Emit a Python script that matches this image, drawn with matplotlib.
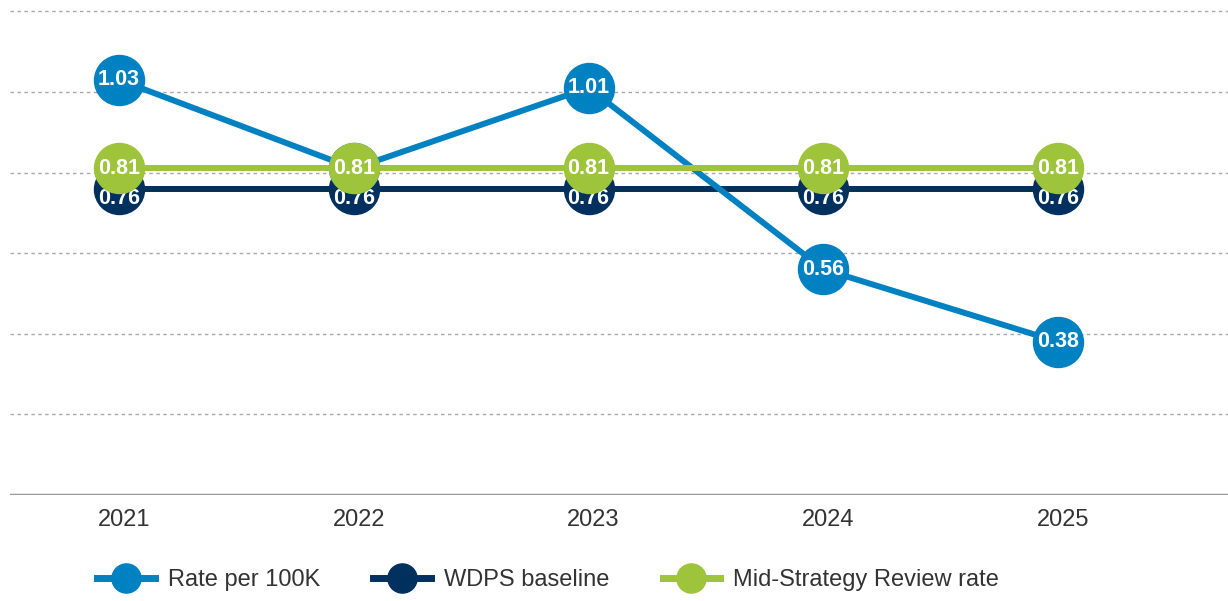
import matplotlib
matplotlib.use("Agg")
import matplotlib.pyplot as plt
import matplotlib.transforms as mtransforms
from matplotlib import font_manager
from matplotlib.lines import Line2D

# data
years = ["2021", "2022", "2023", "2024", "2025"]
rate = [1.03, 0.81, 1.01, 0.56, 0.38]
baseline = [0.76, 0.76, 0.76, 0.76, 0.76]
review = [0.81, 0.81, 0.81, 0.81, 0.81]
grid_vals = [0.2, 0.4, 0.6, 0.8, 1.0, 1.2]

blue = "#0081c1"
navy = "#00305e"
green = "#9dc43b"

# narrow bold font for the labels in the circles if we have it
names = {f.name for f in font_manager.fontManager.ttflist}
if "Liberation Sans Narrow" in names:
    lab_font, lab_size = "Liberation Sans Narrow", 18
else:
    lab_font, lab_size = "Liberation Sans", 15.5

plt.rcParams["font.family"] = ["Liberation Sans", "DejaVu Sans"]

fig = plt.figure(figsize=(12.28, 6.01), dpi=100)
ax = fig.add_axes([10 / 1228, 106 / 601, 1218 / 1228, 495 / 601])

x = list(range(len(years)))
ms = 36
lw = 4.3

ax.plot(x, baseline, color=navy, lw=lw, marker="o", ms=ms, zorder=3)
ax.plot(x, rate, color=blue, lw=lw, marker="o", ms=ms, zorder=4)
ax.plot(x, review, color=green, lw=lw, marker="o", ms=ms, zorder=5)

for i in x:
    ax.annotate(f"{baseline[i]:.2f}", (i, baseline[i]), xytext=(0, -7), textcoords="offset points",
                ha="center", va="center", color="white", fontsize=lab_size, fontweight="bold",
                family=lab_font, zorder=3.5)
    ax.annotate(f"{review[i]:.2f}", (i, review[i]), ha="center", va="center", color="white",
                fontsize=lab_size, fontweight="bold", family=lab_font, zorder=6)
    if abs(rate[i] - review[i]) > 0.05:
        ax.annotate(f"{rate[i]:.2f}", (i, rate[i]), ha="center", va="center", color="white",
                    fontsize=lab_size, fontweight="bold", family=lab_font, zorder=6)

for g in grid_vals:
    ax.axhline(g, color="#a8a8a8", lw=1, ls=(0, (2.5, 2.5)), zorder=1)
ax.axhline(0, color="#9a9a9a", lw=2.5, zorder=2)

ax.set_xlim(-0.464, 4.723)
ax.set_ylim(0, 1.228)
ax.set_yticks([])
ax.set_xticks(x)
ax.set_xticklabels(years, fontsize=17, color="#333333")
ax.tick_params(axis="x", length=0, pad=10)
shift = mtransforms.ScaledTranslation(5 / 100, 0, fig.dpi_scale_trans)
for lab in ax.get_xticklabels():
    lab.set_transform(lab.get_transform() + shift)
for s in ax.spines.values():
    s.set_visible(False)

handles = [
    Line2D([], [], color=blue, lw=5, marker="o", ms=21),
    Line2D([], [], color=navy, lw=5, marker="o", ms=21),
    Line2D([], [], color=green, lw=5, marker="o", ms=21),
]
fig.legend(handles, ["Rate per 100K", "WDPS baseline", "Mid-Strategy Review rate"],
           loc="center left", bbox_to_anchor=(97 / 1228, 1 - 580 / 601), ncol=3,
           frameon=False, fontsize=17, handlelength=2.45, handletextpad=0.55,
           columnspacing=2.25, borderpad=0, borderaxespad=0, labelcolor="#333333")

fig.savefig("out.png", dpi=100)
